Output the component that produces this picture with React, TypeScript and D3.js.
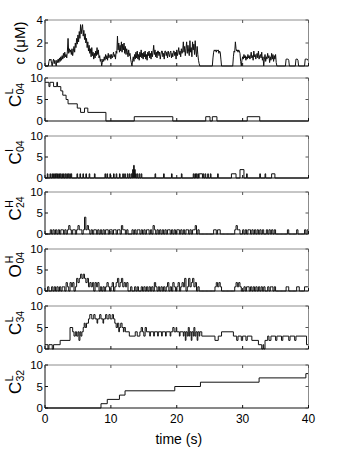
import { useEffect, useRef } from "react";
import * as d3 from "d3";

const timeTicks = [0, 10, 20, 30, 40];

// c (uM), one sample every 0.1 s from 0 to 40 s
const calciumStep = 0.1;
const calcium = [
  0, 0, 0, 0, 0, 0, 0.4, 0.6, 0.5, 0.6,
  0.2, 0, 0.4, 0.6, 0.2, 0.5, 0.3, 0, 0.5, 0.3,
  0.6, 0.3, 0.7, 0.4, 0.8, 0.5, 0.9, 0.6, 1.1, 0.7,
  1.2, 0.8, 1.0, 0.7, 1.3, 2.4, 1.1, 1.5, 1.2, 1.4,
  1.0, 1.5, 0.9, 1.3, 1.7, 1.2, 2.0, 1.6, 2.4, 1.9,
  2.7, 2.1, 3.0, 2.4, 3.6, 2.8, 3.3, 3.6, 2.6, 3.1,
  2.3, 2.8, 2.0, 2.4, 1.6, 2.1, 1.3, 1.8, 1.1, 1.5,
  0.8, 1.6, 0.9, 1.2, 0.6, 1.1, 0.7, 1.3, 0.9, 1.6,
  1.0, 1.4, 0.7, 0.9, 0.4, 0.6, 0, 0.3, 0.6, 0.4,
  0.8, 0.5, 1.0, 0.6, 0.9, 0.5, 1.1, 0.7, 0.9, 1.0,
  0.6, 1.0, 0.7, 0.9, 1.2, 0.8, 1.0, 0.6, 1.3, 1.1,
  2.6, 1.4, 2.0, 1.2, 1.8, 1.3, 2.1, 1.2, 1.9, 1.4,
  2.0, 1.1, 1.7, 1.0, 1.5, 1.2, 0.8, 1.4, 0.9, 1.1,
  0.6, 0.3, 0, 0.5, 0.8, 0.4, 1.0, 0.6, 1.2, 0.7,
  1.3, 0.6, 1.0, 0.5, 1.2, 0.8, 1.4, 0.7, 1.1, 0.6,
  1.2, 0.8, 1.3, 0.6, 1.0, 0.5, 1.2, 0.9, 1.3, 0.7,
  1.1, 0.6, 1.3, 0.8, 1.2, 1.8, 1.0, 1.4, 0.8, 1.2,
  0.7, 1.3, 1.3, 0.9, 1.2, 0.6, 1.0, 1.3, 1.3, 0.8,
  1.1, 0.6, 1.3, 1.3, 0.9, 1.2, 0.7, 1.3, 1.0, 0.8,
  1.2, 1.3, 0.7, 1.1, 0.8, 1.3, 1.3, 0.9, 1.2, 0.6,
  1.4, 0.9, 1.2, 1.6, 1.0, 1.3, 0.8, 1.5, 1.1, 1.3,
  2.1, 1.2, 1.7, 0.9, 1.5, 2.1, 1.1, 1.8, 1.3, 0.9,
  2.2, 1.2, 1.6, 0.8, 2.1, 1.4, 1.9, 1.0, 2.2, 1.3,
  0.8, 1.7, 1.0, 0.5, 0.2, 0, 0, 0, 0, 0,
  0, 0, 0, 0, 0, 0, 0, 0, 0, 0,
  0, 0, 0, 0, 0, 0.7, 1.2, 1.4, 1.3, 1.4,
  1.2, 1.4, 1.3, 1.4, 1.1, 1.3, 1.2, 0.6, 0, 0,
  0, 0, 0, 0, 0, 0, 0, 0, 0, 0,
  0, 0, 0, 0, 0, 0, 0.8, 1.3, 1.2, 2.1,
  1.5, 1.3, 1.4, 1.2, 1.4, 1.3, 1.1, 0.4, 0, 0.5,
  0.8, 0.6, 1.0, 0.7, 0.9, 0.5, 0.8, 0.6, 1.0, 0.7,
  0.9, 0.6, 0.8, 1.2, 0.7, 0.9, 0.5, 1.3, 0.8, 1.0,
  0.6, 0.9, 1.1, 0.7, 1.3, 0.6, 0.9, 1.0, 0.7, 1.2,
  0.5, 0.8, 0, 0.6, 1.0, 0.4, 0.8, 0.6, 1.1, 0.7,
  0.9, 0.3, 0.8, 0.5, 1.1, 0.6, 1.0, 0.4, 0.9, 0.6,
  1.0, 0.3, 0, 0, 0, 0, 0, 0, 0, 0,
  0, 0, 0, 0, 0, 0, 0.6, 0.6, 0.6, 0.6,
  0.5, 0, 0, 0, 0, 0, 0, 0, 0, 0,
  0, 0.6, 0.6, 0.6, 0.5, 0, 0, 0, 0, 0,
  0, 0, 0, 0, 0, 0.6, 0.6, 0.6, 0.6, 0.5,
  0.6,
];

// C^L_04 count, [time, count] at each change
const cl04Steps = [
  [0, 9], [0.6, 8], [0.75, 9], [1.3, 8], [1.8, 9], [1.9, 8], [2.4, 7], [2.7, 6],
  [3.2, 5], [3.5, 4], [4.9, 3], [5.4, 2], [6.0, 3], [6.5, 2], [9.25, 0], [13.55, 1],
  [19.4, 0], [24.4, 1], [25.05, 0], [25.4, 1], [26.1, 0], [30.7, 1], [32.6, 0], [40, 0],
];

// C^I_04 visits: [start, end, count]
const ci04Events = [
  [0.35, 0.45, 1], [0.75, 0.85, 1], [1.05, 1.15, 1], [1.3, 1.4, 1], [1.5, 1.6, 1],
  [1.7, 1.8, 1], [1.9, 2.0, 1], [2.1, 2.2, 1], [2.3, 2.4, 1], [2.55, 2.65, 1],
  [2.8, 2.9, 1], [3.05, 3.15, 1], [3.3, 3.4, 1], [3.5, 3.6, 1], [3.75, 3.85, 1],
  [3.95, 4.05, 1], [4.85, 4.95, 1], [5.3, 5.4, 1], [5.75, 5.85, 1], [6.2, 6.3, 1],
  [6.7, 6.8, 1], [7.5, 7.6, 1], [9.1, 9.2, 1], [9.4, 9.5, 1], [9.85, 9.95, 1],
  [10.4, 10.5, 1], [10.8, 10.9, 1], [11.3, 11.4, 1], [11.8, 11.9, 1], [12.1, 12.2, 1],
  [12.5, 12.6, 1], [12.8, 12.9, 1], [13.1, 13.2, 1], [13.3, 13.4, 2], [13.45, 13.55, 3],
  [13.6, 13.7, 2], [13.75, 13.85, 1], [14.0, 14.1, 1], [14.3, 14.4, 1], [14.6, 14.7, 1],
  [16.7, 16.8, 1], [18.0, 18.1, 1], [19.2, 19.3, 1], [20.7, 20.8, 1], [22.5, 22.6, 1],
  [22.75, 22.85, 1], [22.95, 23.05, 1], [23.2, 23.3, 1], [23.4, 23.9, 1], [24.0, 24.1, 1],
  [24.3, 24.4, 1], [24.7, 24.8, 1], [25.1, 25.2, 1], [26.2, 26.3, 1], [28.3, 29.0, 1],
  [29.6, 30.2, 2], [30.6, 30.7, 1], [32.6, 32.7, 1], [33.4, 33.5, 1], [34.4, 34.9, 1],
];

// C^H_24 and O^H_04 counts, one sample every 0.2 s
const channelStep = 0.2;
const ch24 = [
  0, 0, 0, 0, 1,  0, 1, 0, 1, 0,  1, 0, 1, 1, 0,  1, 0, 1, 2, 1,
  0, 1, 1, 0, 1,  2, 1, 1, 0, 1,  4, 1, 2, 1, 0,  1, 0, 1, 1, 0,
  1, 0, 1, 0, 1,  0, 1, 1, 0, 1,  1, 0, 1, 1, 0,  1, 1, 0, 2, 1,
  1, 0, 1, 0, 0,  0, 1, 0, 1, 0,  1, 1, 0, 1, 0,  1, 0, 1, 1, 0,
  1, 0, 2, 1, 0,  1, 0, 1, 0, 1,  0, 1, 0, 1, 1,  0, 1, 0, 1, 0,
  1, 1, 0, 1, 0,  1, 0, 1, 1, 0,  1, 0, 1, 1, 2,  0, 1, 0, 0, 0,
  0, 0, 0, 0, 0,  0, 0, 0, 1, 1,  0, 1, 1, 0, 0,  0, 0, 0, 0, 0,
  0, 0, 0, 0, 1,  2, 1, 1, 0, 0,  1, 0, 1, 0, 1,  1, 0, 1, 0, 1,
  0, 1, 0, 1, 0,  1, 0, 0, 1, 0,  1, 0, 1, 0, 1,  0, 0, 0, 0, 0,
  0, 0, 0, 0, 1,  0, 0, 0, 0, 0,  0, 1, 0, 0, 0,  0, 0, 1, 0, 1,
  1,
];
const oh04 = [
  0, 0, 1, 0, 0,  1, 0, 1, 0, 1,  0, 1, 0, 1, 1,  0, 2, 1, 0, 2,
  1, 2, 0, 1, 3,  2, 3, 4, 3, 4,  3, 2, 3, 1, 2,  1, 2, 0, 2, 1,
  2, 0, 1, 0, 1,  0, 1, 2, 1, 0,  1, 2, 0, 1, 2,  3, 1, 2, 3, 1,
  2, 1, 2, 0, 0,  1, 0, 0, 1, 0,  1, 0, 0, 1, 0,  1, 0, 1, 0, 1,
  0, 1, 0, 2, 1,  0, 1, 0, 1, 0,  1, 0, 1, 2, 0,  1, 0, 2, 1, 0,
  1, 2, 0, 1, 2,  1, 3, 0, 1, 3,  1, 2, 3, 1, 2,  0, 1, 0, 0, 0,
  0, 0, 0, 0, 0,  0, 0, 0, 0, 1,  2, 1, 2, 1, 0,  0, 0, 0, 0, 0,
  0, 0, 0, 0, 1,  2, 1, 2, 1, 0,  0, 1, 0, 1, 1,  0, 1, 0, 1, 0,
  1, 0, 1, 0, 1,  0, 1, 0, 0, 1,  0, 1, 1, 0, 1,  0, 0, 0, 0, 0,
  0, 0, 0, 1, 1,  0, 0, 0, 0, 0,  0, 1, 1, 0, 0,  0, 0, 1, 1, 1,
  1,
];

// C^L_34 count, [time, count] at each change
const cl34Steps = [
  [0, 1], [0.45, 0], [0.6, 1], [1.1, 0], [1.3, 1], [2.3, 2], [3.8, 5], [4.2, 4], [4.4, 3],
  [4.6, 4], [4.8, 3], [5.0, 4], [5.15, 2], [5.3, 4], [5.45, 3], [5.6, 4], [5.8, 5], [5.95, 6],
  [6.1, 5], [6.3, 6], [6.6, 7], [6.8, 8], [7.1, 7], [7.4, 8], [7.6, 7], [7.9, 6], [8.0, 7],
  [8.3, 8], [8.5, 7], [8.8, 6], [8.9, 7], [9.2, 8], [9.4, 7], [9.7, 8], [9.9, 7], [10.2, 8],
  [10.4, 7], [10.6, 6], [10.8, 5], [11.0, 6], [11.2, 4], [11.3, 5], [11.5, 6], [11.7, 5],
  [11.9, 4], [12.0, 5], [12.2, 4], [12.8, 3], [13.7, 4], [14.0, 3], [14.4, 4], [14.6, 5],
  [14.8, 4], [15.0, 3], [15.2, 5], [15.4, 4], [15.9, 3], [16.0, 4], [16.5, 3], [16.6, 4],
  [17.1, 3], [17.2, 4], [17.7, 3], [17.8, 4], [18.3, 3], [18.4, 4], [19.0, 3], [19.1, 4],
  [19.4, 5], [19.6, 4], [19.9, 5], [20.0, 4], [20.4, 3], [20.5, 4], [21.0, 3], [21.1, 4],
  [21.3, 2], [21.4, 4], [21.6, 3], [21.75, 5], [21.9, 3], [22.0, 4], [22.2, 2], [22.3, 4],
  [22.5, 3], [22.6, 5], [22.75, 3], [22.9, 4], [23.1, 2], [23.2, 4], [23.4, 3], [23.5, 4],
  [23.8, 3], [25.8, 2], [26.3, 3], [26.8, 4], [28.6, 3], [29.1, 2], [29.3, 3], [29.8, 2],
  [30.0, 3], [30.5, 2], [30.7, 3], [31.4, 2], [32.4, 1], [32.9, 0], [33.1, 1], [33.2, 0],
  [33.4, 2], [33.8, 3], [34.0, 2], [34.3, 3], [35.0, 2], [35.2, 3], [35.9, 2], [36.1, 3],
  [37.0, 2], [37.2, 3], [37.9, 2], [38.1, 3], [39.7, 1], [40, 1],
];

// C^L_32 count, [time, count] at each change
const cl32Steps = [
  [0, 0], [8.5, 1], [9.45, 2], [11.3, 3], [12.15, 4], [19.7, 5], [23.6, 6], [32.5, 7],
  [39.6, 8], [40, 8],
];

const FONT = "'Liberation Sans', Arial, Helvetica, sans-serif";

function sampled(values, dt) {
  return values.map((v, i) => [i * dt, v]);
}

function eventsToSteps(events) {
  const out = [[0, 0]];
  events.forEach(([s, e, n]) => {
    out.push([s, n]);
    out.push([e, 0]);
  });
  out.push([40, 0]);
  return out;
}

export default function App() {
  const ref = useRef(null);

  useEffect(() => {
    const svg = d3.select(ref.current);
    svg.selectAll("*").remove();

    const x = d3.scaleLinear().domain([0, 40]).range([45, 308.5]);

    const panels = [
      { top: 20, bottom: 66, max: 4, ticks: [0, 2, 4], data: sampled(calcium, calciumStep), curve: d3.curveLinear, label: "c" },
      { top: 78, bottom: 121, max: 10, ticks: [0, 5, 10], data: cl04Steps, curve: d3.curveStepAfter, label: ["C", "L", "04"] },
      { top: 136, bottom: 178, max: 10, ticks: [0, 5, 10], data: eventsToSteps(ci04Events), curve: d3.curveStepAfter, label: ["C", "I", "04"] },
      { top: 192, bottom: 234, max: 10, ticks: [0, 5, 10], data: sampled(ch24, channelStep), curve: d3.curveStepAfter, label: ["C", "H", "24"] },
      { top: 249, bottom: 291, max: 10, ticks: [0, 5, 10], data: sampled(oh04, channelStep), curve: d3.curveStepAfter, label: ["O", "H", "04"] },
      { top: 306, bottom: 349, max: 10, ticks: [0, 5, 10], data: cl34Steps, curve: d3.curveStepAfter, label: ["C", "L", "34"] },
      { top: 365, bottom: 408, max: 10, ticks: [0, 5, 10], data: cl32Steps, curve: d3.curveStepAfter, label: ["C", "L", "32"] },
    ];

    panels.forEach((p, idx) => {
      const y = d3.scaleLinear().domain([0, p.max]).range([p.bottom, p.top]);
      const g = svg.append("g");

      // trace
      const line = d3
        .line()
        .x((d) => x(d[0]))
        .y((d) => y(d[1]))
        .curve(p.curve);
      g.append("path")
        .datum(p.data)
        .attr("d", line)
        .attr("fill", "none")
        .attr("stroke", "#111")
        .attr("stroke-width", 1);

      // box: top and right lighter like the original
      g.append("line").attr("x1", x(0)).attr("x2", x(40)).attr("y1", p.top).attr("y2", p.top).attr("stroke", "#8c8c8c");
      g.append("line").attr("x1", x(40)).attr("x2", x(40)).attr("y1", p.top).attr("y2", p.bottom).attr("stroke", "#8c8c8c");
      g.append("line").attr("x1", x(0)).attr("x2", x(40)).attr("y1", p.bottom).attr("y2", p.bottom).attr("stroke", "#111");
      g.append("line").attr("x1", x(0)).attr("x2", x(0)).attr("y1", p.top).attr("y2", p.bottom).attr("stroke", "#111");

      // y ticks, both sides, inward
      p.ticks.forEach((t) => {
        g.append("line").attr("x1", x(0)).attr("x2", x(0) + 3).attr("y1", y(t)).attr("y2", y(t)).attr("stroke", "#111");
        g.append("line").attr("x1", x(40)).attr("x2", x(40) - 3).attr("y1", y(t)).attr("y2", y(t)).attr("stroke", "#555");
        g.append("text")
          .attr("x", x(0) - 2)
          .attr("y", y(t))
          .attr("dy", "0.36em")
          .attr("text-anchor", "end")
          .style("font-family", FONT)
          .style("font-size", "11.5px")
          .text(t);
      });

      // x ticks, top and bottom, inward
      timeTicks.forEach((t) => {
        g.append("line").attr("x1", x(t)).attr("x2", x(t)).attr("y1", p.bottom).attr("y2", p.bottom - 3).attr("stroke", "#111");
        g.append("line").attr("x1", x(t)).attr("x2", x(t)).attr("y1", p.top).attr("y2", p.top + 3).attr("stroke", "#555");
      });

      const cy = (p.top + p.bottom) / 2;
      if (p.label === "c") {
        g.append("text")
          .attr("transform", `translate(25,${cy}) rotate(-90)`)
          .attr("text-anchor", "middle")
          .style("font-family", FONT)
          .style("font-size", "15px")
          .text("c (\u03bcM)");
      } else {
        const [base, sup, sub] = p.label;
        const lg = g.append("g").attr("transform", `translate(21,${cy}) rotate(-90)`);
        lg.append("text")
          .attr("x", -7.5)
          .attr("y", 0)
          .style("font-family", FONT)
          .style("font-size", "17px")
          .text(base);
        lg.append("text")
          .attr("x", base === "O" ? 6.5 : 5)
          .attr("y", -8)
          .style("font-family", FONT)
          .style("font-size", "11px")
          .text(sup);
        lg.append("text")
          .attr("x", base === "O" ? 6.5 : 5)
          .attr("y", 2.5)
          .style("font-family", FONT)
          .style("font-size", "10.5px")
          .text(sub);
      }

      if (idx === panels.length - 1) {
        timeTicks.forEach((t) => {
          g.append("text")
            .attr("x", x(t))
            .attr("y", p.bottom + 15)
            .attr("text-anchor", "middle")
            .style("font-family", FONT)
            .style("font-size", "12px")
            .text(t);
        });
        g.append("text")
          .attr("x", (x(0) + x(40)) / 2 + 2)
          .attr("y", 444)
          .attr("text-anchor", "middle")
          .style("font-family", FONT)
          .style("font-size", "14px")
          .text("time (s)");
      }
    });
  }, []);

  return (
    <svg
      ref={ref}
      width={341}
      height={455}
      style={{ position: "absolute", left: 0, top: 0, background: "#fff" }}
    />
  );
}
